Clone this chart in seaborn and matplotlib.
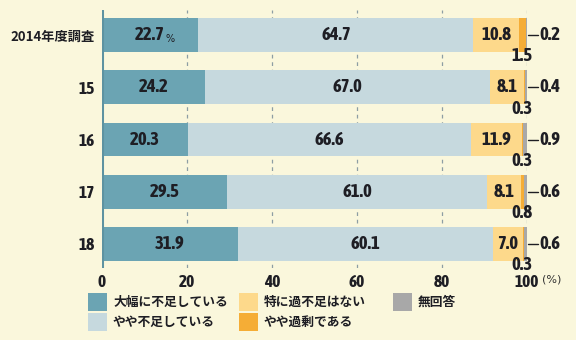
import numpy as np
import pandas as pd
import matplotlib
matplotlib.use("Agg")
import matplotlib.pyplot as plt
import seaborn as sns
from matplotlib.patches import Rectangle

# Survey years and answer shares (%)
years = ["2014年度調査", "15", "16", "17", "18"]
severe_short = [22.7, 24.2, 20.3, 29.5, 31.9]     # 大幅に不足している
slight_short = [64.7, 67.0, 66.6, 61.0, 60.1]     # やや不足している
balanced = [10.8, 8.1, 11.9, 8.1, 7.0]            # 特に過不足はない
slight_excess = [1.5, 0.3, 0.3, 0.8, 0.3]         # やや過剰である
no_answer = [0.2, 0.4, 0.9, 0.6, 0.6]             # 無回答

series_names = ["大幅に不足している", "やや不足している", "特に過不足はない",
                "やや過剰である", "無回答"]
series_vals = [severe_short, slight_short, balanced, slight_excess, no_answer]
colors = ["#6ba4b3", "#c6d9de", "#fdd98b", "#f5ad36", "#a8a8a8"]
ticks = [0, 20, 40, 60, 80, 100]

BG = "#faf7dc"
TXT = "#1e1e24"
JP = "Noto Sans CJK JP"
NUM = ["Asap Condensed", "DejaVu Sans"]
W, H = 576, 340

sns.set_style("white")
plt.rcParams["font.family"] = [JP, "DejaVu Sans"]

fig = plt.figure(figsize=(W / 100, H / 100), dpi=100, facecolor=BG)
ax = fig.add_axes([102 / W, 72 / H, 425 / W, 258 / H])
ax.set_facecolor(BG)

# stacked bars: draw cumulative totals from the outermost layer inward
cum = np.cumsum(np.array(series_vals), axis=0)
for i in range(len(series_vals) - 1, -1, -1):
    df = pd.DataFrame({"year": years, "val": cum[i]})
    sns.barplot(data=df, x="val", y="year", orient="h", color=colors[i],
                width=0.65, saturation=1, ax=ax, zorder=2, linewidth=0)

ax.set_xlim(0, 100)
ax.set_ylim(4.46, -0.48)

# dashed vertical gridlines behind bars
for t in ticks[1:]:
    ax.axvline(t, color="#8d9ea4", lw=0.9, ls=(0, (3, 3)), zorder=1)
ax.axvline(0, color="#5e93a1", lw=2.2, zorder=3)

for s in ax.spines.values():
    s.set_visible(False)
ax.set_xlabel("")
ax.set_ylabel("")
ax.set_xticks(ticks)
ax.set_xticklabels([str(t) for t in ticks], fontfamily=NUM, fontweight="bold",
                   fontsize=12.5, color=TXT)
ax.tick_params(axis="x", length=0, pad=4)
ax.set_yticks(range(len(years)))
ax.set_yticklabels(years, fontweight="bold", fontsize=9.5, color=TXT)
ax.tick_params(axis="y", length=0, pad=5)
for lab in ax.get_yticklabels()[1:]:
    lab.set_fontfamily(NUM)
    lab.set_fontsize(12.5)

ax.text(105.8, -0.045, "(%)", transform=ax.get_xaxis_transform(), ha="center",
        va="center", fontsize=8, color="#333333", family="DejaVu Sans")

# value labels
for r in range(len(years)):
    left = 0.0
    for k in range(3):
        v = series_vals[k][r]
        ax.text(left + v / 2, r, f"{v:.1f}", ha="center", va="center",
                fontfamily=NUM, fontweight="bold", fontsize=13.5, color=TXT, zorder=5)
        if r == 0 and k == 0:
            ax.text(left + v / 2 + 3.6, r + 0.07, "%", ha="left", va="center",
                    fontsize=7, color=TXT, family="DejaVu Sans", zorder=5)
        left += v
    # excess share, just below the bar end
    ax.text(98.9, r + 0.41, f"{slight_excess[r]:.1f}", ha="center", va="center",
            fontfamily=NUM, fontweight="bold", fontsize=13.5, color=TXT,
            zorder=5, clip_on=False)
    # no-answer share, to the right with a leader line
    ax.plot([100.2, 102.5], [r, r], color=TXT, lw=1.0, clip_on=False, zorder=5)
    ax.text(102.8, r, f"{no_answer[r]:.1f}", ha="left", va="center",
            fontfamily=NUM, fontweight="bold", fontsize=13.5, color=TXT,
            zorder=5, clip_on=False)

# legend: three columns, filled column by column
col_x = [88, 239, 393]
row_y = [302, 322]
for idx, (name, c) in enumerate(zip(series_names, colors)):
    cx = col_x[idx // 2]
    cy = row_y[idx % 2]
    fig.patches.append(Rectangle((cx / W, 1 - (cy + 9) / H), 19 / W, 18 / H,
                                 transform=fig.transFigure, facecolor=c,
                                 edgecolor="none"))
    fig.text((cx + 25) / W, 1 - cy / H, name, ha="left", va="center",
             fontsize=9.2, fontweight="bold", color=TXT)

fig.savefig("out.png", dpi=100, facecolor=BG)
